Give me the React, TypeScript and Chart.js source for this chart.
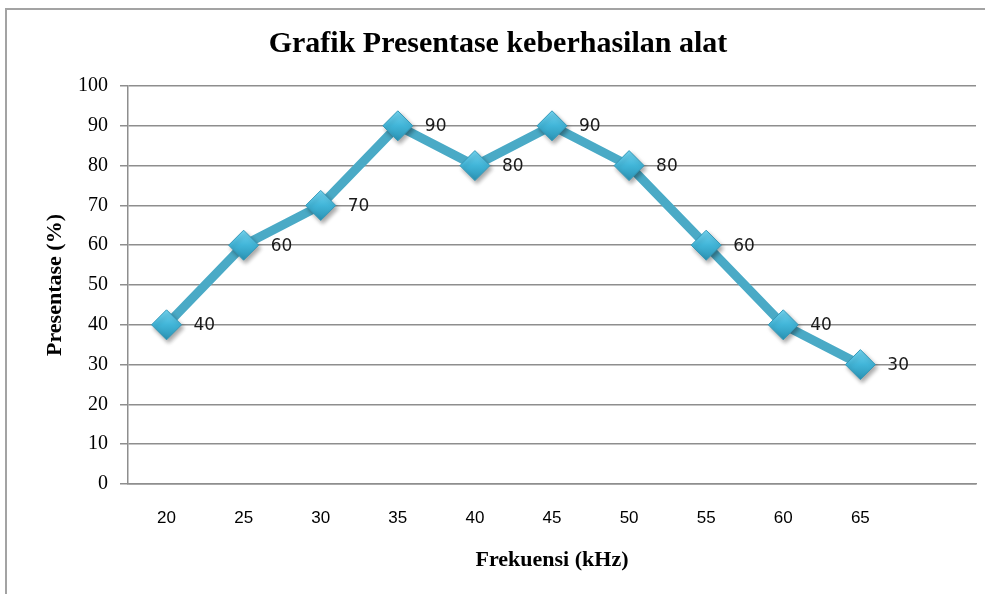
import React, { useEffect, useRef } from "react";
import { Chart, registerables } from "chart.js";

Chart.register(...registerables);

const chartTitle = "Grafik Presentase keberhasilan alat";
const xTitle = "Frekuensi (kHz)";
const yTitle = "Presentase (%)";
const categories = ["20", "25", "30", "35", "40", "45", "50", "55", "60", "65", ""];
const values = [40, 60, 70, 90, 80, 90, 80, 60, 40, 30];
const yMin = 0;
const yMax = 100;
const yStep = 10;

const lineColor = "#4aaac6";
const gridColor = "#8e8e8e";

const shadowPlugin = {
  id: "markerShadow",
  beforeDatasetDraw(chart: any, args: any) {
    if (args.index === 0) {
      const ctx = chart.ctx;
      ctx.save();
      ctx.shadowColor = "rgba(0,0,0,0.35)";
      ctx.shadowBlur = 4;
      ctx.shadowOffsetX = 2;
      ctx.shadowOffsetY = 3;
    }
  },
  afterDatasetDraw(chart: any, args: any) {
    if (args.index === 0) {
      chart.ctx.restore();
    }
  },
};

const labelPlugin = {
  id: "valueLabels",
  afterDatasetsDraw(chart: any) {
    const meta = chart.getDatasetMeta(0);
    const ctx = chart.ctx;
    ctx.save();
    ctx.font = '17px "DejaVu Sans", "Liberation Sans", sans-serif';
    ctx.fillStyle = "#1a1a1a";
    ctx.textAlign = "left";
    ctx.textBaseline = "middle";
    meta.data.forEach((pt: any, i: number) => {
      const v = chart.data.datasets[0].data[i];
      if (v === null || v === undefined) return;
      ctx.fillText(String(v), pt.x + 27, pt.y + 1);
    });
    ctx.restore();
  },
};

function markerFill(c: any) {
  const chart = c.chart;
  const ys = chart.scales && chart.scales.y;
  if (!ys || typeof c.raw !== "number") return "#45b6d8";
  const py = ys.getPixelForValue(c.raw);
  if (!Number.isFinite(py)) return "#45b6d8";
  const g = chart.ctx.createLinearGradient(0, py - 15, 0, py + 15);
  g.addColorStop(0, "#74d6f2");
  g.addColorStop(0.5, "#41b5d8");
  g.addColorStop(1, "#2b93b4");
  return g;
}

export default function App() {
  const canvasRef = useRef<HTMLCanvasElement | null>(null);

  useEffect(() => {
    if (!canvasRef.current) return;
    const chart = new Chart(canvasRef.current, {
      type: "line",
      data: {
        labels: categories,
        datasets: [
          {
            label: "markers",
            data: values,
            showLine: false,
            pointStyle: "rectRot",
            pointRadius: 15,
            pointBackgroundColor: markerFill as any,
            pointBorderColor: "#3598b8",
            pointBorderWidth: 1,
            borderColor: lineColor,
          },
          {
            label: "line",
            data: values,
            borderColor: lineColor,
            borderWidth: 9,
            pointRadius: 0,
            tension: 0,
            fill: false,
          },
        ],
      },
      options: {
        responsive: false,
        maintainAspectRatio: false,
        animation: false,
        layout: { autoPadding: false, padding: { left: 20, right: 9, top: 0, bottom: 0 } },
        plugins: {
          legend: { display: false },
          tooltip: { enabled: false },
          title: {
            display: true,
            text: chartTitle,
            color: "#000",
            font: { family: '"Liberation Serif", "Times New Roman", serif', size: 30, weight: "bold" },
            padding: { top: 26, bottom: 24 },
          },
        },
        scales: {
          x: {
            type: "category",
            offset: true,
            grid: { display: false, drawTicks: false },
            border: { display: true, color: gridColor, width: 1.5 },
            ticks: {
              color: "#000",
              font: { family: '"Liberation Sans", Arial, sans-serif', size: 17 },
              padding: 24,
              maxRotation: 0,
              autoSkip: false,
            },
            title: {
              display: true,
              text: xTitle,
              color: "#000",
              font: { family: '"Liberation Serif", "Times New Roman", serif', size: 22, weight: "bold" },
              padding: { top: 0, bottom: 20 },
            },
            afterFit(scale: any) {
              scale.height = 110;
              scale.paddingLeft = 0;
              scale.paddingRight = 0;
            },
          },
          y: {
            min: yMin,
            max: yMax,
            ticks: {
              stepSize: yStep,
              color: "#000",
              font: { family: '"Liberation Serif", "Times New Roman", serif', size: 20 },
              padding: 12,
            },
            grid: { color: gridColor, lineWidth: 1.5, tickLength: 8, drawTicks: true },
            border: { display: true, color: gridColor, width: 1.5 },
            title: {
              display: true,
              text: yTitle,
              color: "#000",
              font: { family: '"Liberation Serif", "Times New Roman", serif', size: 22, weight: "bold" },
              padding: { top: 22, bottom: 0 },
            },
            afterFit(scale: any) {
              scale.width = 108;
            },
          },
        },
      },
      plugins: [shadowPlugin, labelPlugin],
    });
    return () => chart.destroy();
  }, []);

  return (
    <div
      style={{
        position: "fixed",
        left: 0,
        top: 0,
        width: 985,
        height: 594,
        background: "#fff",
        overflow: "hidden",
      }}
    >
      <div
        style={{
          position: "absolute",
          left: 5,
          top: 8,
          width: 1100,
          height: 700,
          border: "2px solid #a3a3a3",
          boxSizing: "border-box",
        }}
      />
      <canvas
        ref={canvasRef}
        width={985}
        height={594}
        style={{ position: "absolute", left: 0, top: 0, display: "block" }}
      />
    </div>
  );
}
